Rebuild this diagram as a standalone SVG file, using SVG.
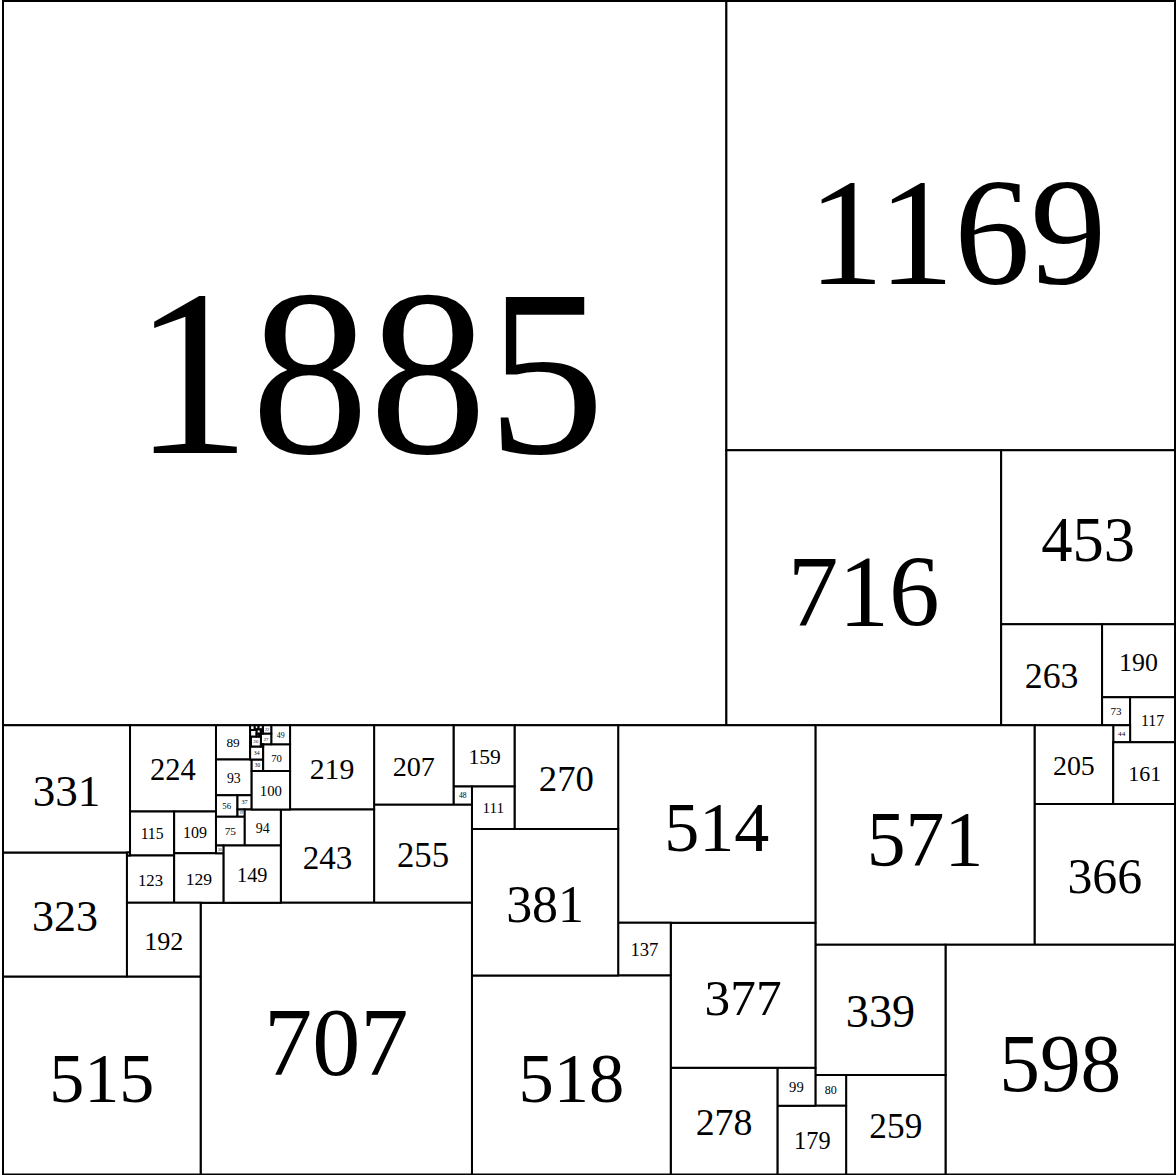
<svg xmlns="http://www.w3.org/2000/svg" width="1176" height="1175" viewBox="0 0 1176 1175">
<style>
.s{fill:#fff;stroke:#000;stroke-width:2;vector-effect:non-scaling-stroke}
.t{font-family:"Liberation Serif","Times New Roman",serif;text-anchor:middle;fill:#000}
</style>
<rect width="1176" height="1175" fill="#fff"/>
<g id="squares" transform="translate(3,1) scale(0.38376,0.38425)">
<g id="n1885"><rect class="s" x="0" y="0" width="1885" height="1885"/><text class="t" x="954" y="1177" font-size="615">1885</text></g>
<g id="n1169"><rect class="s" x="1885" y="0" width="1169" height="1169"/><text class="t" x="2486" y="736" font-size="396">1169</text></g>
<g id="n716"><rect class="s" x="1885" y="1169" width="716" height="716"/><text class="t" x="2243" y="1626" font-size="264">716</text></g>
<g id="n453"><rect class="s" x="2601" y="1169" width="453" height="453"/><text class="t" x="2827.5" y="1456.7" font-size="163">453</text></g>
<g id="n263"><rect class="s" x="2601" y="1622" width="263" height="263"/><text class="t" x="2732.5" y="1789" font-size="93.4">263</text></g>
<g id="n190"><rect class="s" x="2864" y="1622" width="190" height="190"/><text class="t" x="2959" y="1742.7" font-size="67.5">190</text></g>
<g id="n73"><rect class="s" x="2864" y="1812" width="73" height="73"/><text class="t" x="2900.5" y="1858.4" font-size="28.9">73</text></g>
<g id="n117"><rect class="s" x="2937" y="1812" width="117" height="117"/><text class="t" x="2995.5" y="1886.3" font-size="41.5">117</text></g>
<g id="n44"><rect class="s" x="2893" y="1885" width="44" height="44"/><text class="t" x="2915" y="1912.9" font-size="18.6">44</text></g>
<g id="n205"><rect class="s" x="2688" y="1885" width="205" height="205"/><text class="t" x="2790.5" y="2015.2" font-size="72.8">205</text></g>
<g id="n161"><rect class="s" x="2893" y="1929" width="161" height="161"/><text class="t" x="2975" y="2031.2" font-size="57.2">161</text></g>
<g id="n366"><rect class="s" x="2688" y="2090" width="366" height="366"/><text class="t" x="2871" y="2322.4" font-size="129.9">366</text></g>
<g id="n571"><rect class="s" x="2117" y="1885" width="571" height="571"/><text class="t" x="2402.5" y="2247.6" font-size="202.7">571</text></g>
<g id="n598"><rect class="s" x="2456" y="2456" width="598" height="598"/><text class="t" x="2755" y="2835.7" font-size="212.3">598</text></g>
<g id="n339"><rect class="s" x="2117" y="2456" width="339" height="339"/><text class="t" x="2286.5" y="2671.3" font-size="120.3">339</text></g>
<g id="n259"><rect class="s" x="2197" y="2795" width="259" height="259"/><text class="t" x="2326.5" y="2959.5" font-size="91.9">259</text></g>
<g id="n80"><rect class="s" x="2117" y="2795" width="80" height="80"/><text class="t" x="2157" y="2845.8" font-size="31.4">80</text></g>
<g id="n179"><rect class="s" x="2018" y="2875" width="179" height="179"/><text class="t" x="2109" y="2988.7" font-size="63.5">179</text></g>
<g id="n99"><rect class="s" x="2018" y="2776" width="99" height="99"/><text class="t" x="2067.5" y="2838.9" font-size="38.1">99</text></g>
<g id="n278"><rect class="s" x="1740" y="2776" width="278" height="278"/><text class="t" x="1879" y="2952.5" font-size="98.7">278</text></g>
<g id="n377"><rect class="s" x="1740" y="2399" width="377" height="377"/><text class="t" x="1928.5" y="2638.4" font-size="133.8">377</text></g>
<g id="n514"><rect class="s" x="1603" y="1885" width="514" height="514"/><text class="t" x="1860" y="2211.4" font-size="182.5">514</text></g>
<g id="n137"><rect class="s" x="1603" y="2399" width="137" height="137"/><text class="t" x="1671.5" y="2486" font-size="48.6">137</text></g>
<g id="n518"><rect class="s" x="1222" y="2536" width="518" height="518"/><text class="t" x="1481" y="2864.9" font-size="183.9">518</text></g>
<g id="n381"><rect class="s" x="1222" y="2155" width="381" height="381"/><text class="t" x="1412.5" y="2396.9" font-size="135.3">381</text></g>
<g id="n270"><rect class="s" x="1333" y="1885" width="270" height="270"/><text class="t" x="1468" y="2056.5" font-size="95.9">270</text></g>
<g id="n159"><rect class="s" x="1174" y="1885" width="159" height="159"/><text class="t" x="1255" y="1986" font-size="56.4">159</text></g>
<g id="n111"><rect class="s" x="1222" y="2044" width="111" height="111"/><text class="t" x="1277.5" y="2114.5" font-size="39.4">111</text></g>
<g id="n48"><rect class="s" x="1174" y="2044" width="48" height="48"/><text class="t" x="1198" y="2074.5" font-size="20">48</text></g>
<g id="n207"><rect class="s" x="967" y="1885" width="207" height="207"/><text class="t" x="1070.5" y="2016.4" font-size="73.5">207</text></g>
<g id="n255"><rect class="s" x="967" y="2092" width="255" height="255"/><text class="t" x="1094.5" y="2253.9" font-size="90.5">255</text></g>
<g id="n219"><rect class="s" x="748" y="1885" width="219" height="219"/><text class="t" x="857.5" y="2024.1" font-size="77.7">219</text></g>
<g id="n243"><rect class="s" x="724" y="2104" width="243" height="243"/><text class="t" x="845.5" y="2258.3" font-size="86.3">243</text></g>
<g id="n707"><rect class="s" x="515" y="2347" width="707" height="707"/><text class="t" x="868.5" y="2795.9" font-size="251">707</text></g>
<g id="n515"><rect class="s" x="0" y="2539" width="515" height="515"/><text class="t" x="257.5" y="2866" font-size="182.8">515</text></g>
<g id="n323"><rect class="s" x="0" y="2216" width="323" height="323"/><text class="t" x="161.5" y="2421.1" font-size="114.7">323</text></g>
<g id="n331"><rect class="s" x="0" y="1885" width="331" height="331"/><text class="t" x="165.5" y="2095.2" font-size="117.5">331</text></g>
<g id="n224"><rect class="s" x="331" y="1885" width="224" height="224"/><text class="t" x="443" y="2027.2" font-size="79.5">224</text></g>
<g id="n115"><rect class="s" x="331" y="2109" width="115" height="115"/><text class="t" x="388.5" y="2182" font-size="40.8">115</text></g>
<g id="n109"><rect class="s" x="446" y="2109" width="109" height="109"/><text class="t" x="500.5" y="2178.2" font-size="41.7">109</text></g>
<g id="n123"><rect class="s" x="323" y="2224" width="123" height="123"/><text class="t" x="384.5" y="2302.1" font-size="43.7">123</text></g>
<g id="n8"><rect class="s" x="323" y="2216" width="8" height="8"/></g>
<g id="n129"><rect class="s" x="446" y="2218" width="129" height="129"/><text class="t" x="510.5" y="2299.9" font-size="45.8">129</text></g>
<g id="n192"><rect class="s" x="323" y="2347" width="192" height="192"/><text class="t" x="419" y="2468.9" font-size="68.2">192</text></g>
<g id="n89"><rect class="s" x="555" y="1885" width="89" height="89"/><text class="t" x="599.5" y="1942.5" font-size="34.6">89</text></g>
<g id="n93"><rect class="s" x="555" y="1974" width="93" height="93"/><text class="t" x="601.5" y="2034.1" font-size="36">93</text></g>
<g id="n56"><rect class="s" x="555" y="2067" width="56" height="56"/><text class="t" x="583" y="2103.2" font-size="22.9">56</text></g>
<g id="n37"><rect class="s" x="611" y="2067" width="37" height="37"/><text class="t" x="629.5" y="2091" font-size="16.1">37</text></g>
<g id="n19"><rect class="s" x="611" y="2104" width="19" height="19"/><text class="t" x="620.5" y="2116.5" font-size="9.7">19</text></g>
<g id="n75"><rect class="s" x="555" y="2123" width="75" height="75"/><text class="t" x="592.5" y="2171.2" font-size="29.6">75</text></g>
<g id="n94"><rect class="s" x="630" y="2104" width="94" height="94"/><text class="t" x="677" y="2164.5" font-size="36.4">94</text></g>
<g id="n20"><rect class="s" x="555" y="2198" width="20" height="20"/><text class="t" x="565" y="2211.2" font-size="10.1">20</text></g>
<g id="n149"><rect class="s" x="575" y="2198" width="149" height="149"/><text class="t" x="649.5" y="2292.6" font-size="52.9">149</text></g>
<g id="n100"><rect class="s" x="648" y="2004" width="100" height="100"/><text class="t" x="698" y="2068.5" font-size="38.5">100</text></g>
<g id="n30"><rect class="s" x="648" y="1974" width="30" height="30"/><text class="t" x="663" y="1993.6" font-size="13.7">30</text></g>
<g id="n34"><rect class="s" x="644" y="1940" width="34" height="34"/><text class="t" x="661" y="1962.2" font-size="15.1">34</text></g>
<g id="n70"><rect class="s" x="678" y="1934" width="70" height="70"/><text class="t" x="713" y="1979.6" font-size="27.9">70</text></g>
<g id="n49"><rect class="s" x="699" y="1885" width="49" height="49"/><text class="t" x="723.5" y="1916.9" font-size="20.4">49</text></g>
<g id="n22"><rect class="s" x="677" y="1885" width="22" height="22"/><text class="t" x="688" y="1899.5" font-size="10.8">22</text></g>
<g id="n27"><rect class="s" x="672" y="1907" width="27" height="27"/><text class="t" x="685.5" y="1924.6" font-size="12.6">27</text></g>
<g id="n26"><rect class="s" x="646" y="1914" width="26" height="26"/><text class="t" x="659" y="1931" font-size="12.2">26</text></g>
<g id="n6"><rect class="s" x="672" y="1934" width="6" height="6"/></g>
<g id="tiny">
<rect class="s" x="644" y="1914" width="2" height="26"/>
<rect class="s" x="644" y="1885" width="12" height="12"/>
<rect class="s" x="656" y="1885" width="10" height="10"/>
<rect class="s" x="666" y="1885" width="11" height="11"/>
<rect class="s" x="644" y="1897" width="17" height="17"/>
<rect class="s" x="661" y="1896" width="11" height="11"/>
<rect class="s" x="672" y="1896" width="5" height="5"/>
<rect class="s" x="672" y="1901" width="5" height="6"/>
<rect class="s" x="661" y="1907" width="7" height="7"/>
<rect class="s" x="668" y="1907" width="4" height="7"/>
</g>
</g>
<g id="connectors"/>
</svg>
